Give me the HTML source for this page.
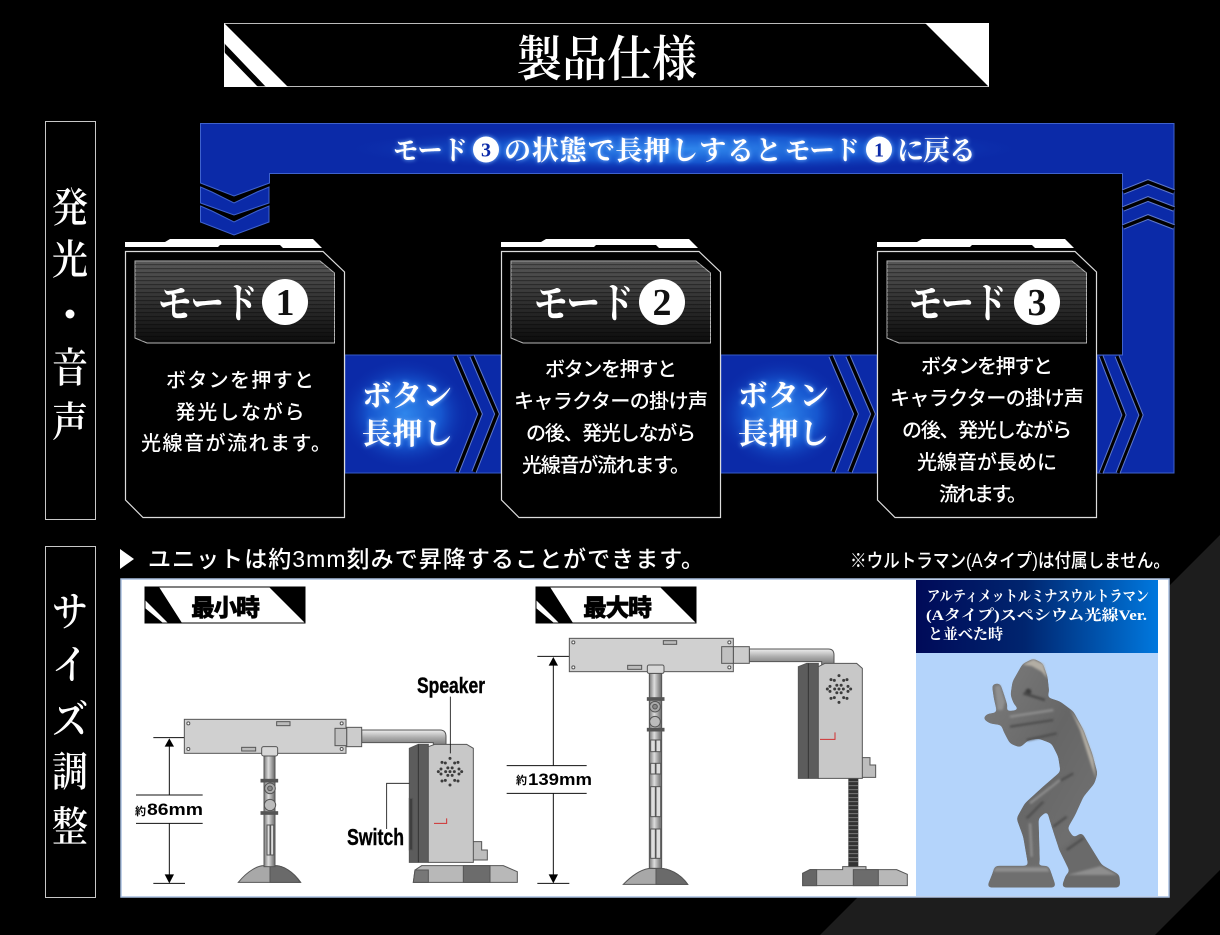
<!DOCTYPE html>
<html lang="ja"><head><meta charset="utf-8"><title>製品仕様</title>
<style>
html,body{margin:0;padding:0;background:#000;width:1220px;height:935px;overflow:hidden}
svg{display:block}
.sf{font-family:"Liberation Serif","Noto Serif CJK SC",serif}
.ss{font-family:"Liberation Sans","Noto Sans CJK JP",sans-serif}
</style></head><body>
<svg xmlns="http://www.w3.org/2000/svg" width="1220" height="935" viewBox="0 0 1220 935">
<defs>
<linearGradient id="hd" x1="0" y1="0" x2="0" y2="1"><stop offset="0" stop-color="#585858"/><stop offset=".55" stop-color="#2c2c2c"/><stop offset="1" stop-color="#0c0c0c"/></linearGradient>
<pattern id="scan" width="4" height="4" patternUnits="userSpaceOnUse"><rect width="4" height="1.2" fill="#000" opacity=".35"/></pattern>
<radialGradient id="glow"><stop offset="0" stop-color="#2f86ec"/><stop offset=".55" stop-color="#1656cf"/><stop offset="1" stop-color="#0b2aa8" stop-opacity="0"/></radialGradient>
<linearGradient id="phd" x1="0" y1="0" x2="1" y2="0"><stop offset="0" stop-color="#000a58"/><stop offset=".45" stop-color="#00256f"/><stop offset="1" stop-color="#0078de"/></linearGradient>
<linearGradient id="pole" x1="0" y1="0" x2="1" y2="0"><stop offset="0" stop-color="#777"/><stop offset=".4" stop-color="#ddd"/><stop offset="1" stop-color="#666"/></linearGradient>
<linearGradient id="arm" x1="0" y1="0" x2="0" y2="1"><stop offset="0" stop-color="#eee"/><stop offset=".5" stop-color="#aaa"/><stop offset="1" stop-color="#777"/></linearGradient>
<linearGradient id="fig" x1="0" y1="0" x2="1" y2="1"><stop offset="0" stop-color="#7e7e7e"/><stop offset=".5" stop-color="#666"/><stop offset="1" stop-color="#747474"/></linearGradient>
<filter id="ts" x="-20%" y="-40%" width="140%" height="180%"><feGaussianBlur stdDeviation="2.2" in="SourceGraphic" result="b"/><feFlood flood-color="#7db8ff"/><feComposite in2="b" operator="in"/><feMerge><feMergeNode/><feMergeNode in="SourceGraphic"/></feMerge></filter>
<filter id="bl" x="-10%" y="-10%" width="120%" height="120%"><feGaussianBlur stdDeviation="3"/></filter>
<filter id="smooth" x="-10%" y="-10%" width="120%" height="120%" color-interpolation-filters="sRGB"><feGaussianBlur stdDeviation="6"/><feColorMatrix type="matrix" values="1 0 0 0 0  0 1 0 0 0  0 0 1 0 0  0 0 0 14 -6"/></filter>

<g id="speaker" fill="#3c3c3c">
<circle r="4.500"/><circle cx="13" r="4.500"/><circle cx="-13" r="4.500"/><circle cx="6.500" cy="11.300" r="4.500"/><circle cx="-6.500" cy="11.300" r="4.500"/><circle cx="6.500" cy="-11.300" r="4.500"/><circle cx="-6.500" cy="-11.300" r="4.500"/>
<circle cx="27" cy="7" r="4.500"/><circle cx="27" cy="-8" r="4.500"/><circle cx="-27" cy="7" r="4.500"/><circle cx="-27" cy="-8" r="4.500"/><circle cx="35" r="4.500"/><circle cx="-35" r="4.500"/><circle cx="14" cy="26" r="4.500"/><circle cx="-14" cy="26" r="4.500"/><circle cx="14" cy="-26" r="4.500"/><circle cx="-14" cy="-26" r="4.500"/><circle cy="40" r="4.500"/><circle cy="-40" r="4.500"/><circle cx="24" cy="28" r="4.500"/><circle cx="-24" cy="28" r="4.500"/><circle cx="24" cy="-28" r="4.500"/><circle cx="-24" cy="-28" r="4.500"/>
</g>

<g id="card">
<path d="M125 242H165L170 239H313L322 248H283L280 245H220L218 247H125Z" fill="#fff"/>
<path d="M125.500 251.500H323L344.500 272V517.500H143L125.500 500Z" fill="#000" stroke="#dcdcdc" stroke-width="1.200"/>
<path d="M135 261H320L334.500 273V343H147L135 338Z" fill="url(#hd)" stroke="#b5b5b5" stroke-width="1"/>
<path d="M135 261H320L334.500 273V343H147L135 338Z" fill="url(#scan)"/>
</g>

<g id="arrow">
<rect x="345" y="355" width="156" height="118" fill="#0b2aa8" stroke="#3459c6" stroke-width="1"/>
<ellipse cx="405" cy="414" rx="66" ry="56" fill="url(#glow)"/>
<path d="M455 356L480 414L457 472" fill="none" stroke="#5f78c9" stroke-width="5.400"/>
<path d="M455 356L480 414L457 472" fill="none" stroke="#000" stroke-width="3.400"/>
<path d="M472 356L497 414L474 472" fill="none" stroke="#5f78c9" stroke-width="5.400"/>
<path d="M472 356L497 414L474 472" fill="none" stroke="#000" stroke-width="3.400"/>
</g>

<g id="lblshape">
<rect x="0" y="0" width="160" height="36" fill="#fff" stroke="#000" stroke-width="1"/>
<path d="M0 0H14L37 36H23L0 13Z" fill="#000"/>
<path d="M0 21L18 36H0Z" fill="#000"/>
<path d="M124 0H160V36Z" fill="#000"/>
</g>
</defs>

<rect width="1220" height="935" fill="#000"/>
<path d="M1220 535L820 935H1155L1220 870Z" fill="#1d1d1d"/>

<!-- title -->
<rect x="224.500" y="23.500" width="764" height="63" fill="#000" stroke="#bbb" stroke-width="1"/>
<path d="M224 23L288 87H266L224 43Z" fill="#fff"/>
<path d="M224 52L258 87H224Z" fill="#fff"/>
<path d="M925 23H989V87Z" fill="#fff"/>
<text class="sf" x="517" y="76" font-size="49" font-weight="600" fill="#fff" textLength="180" lengthAdjust="spacingAndGlyphs">製品仕様</text>

<!-- side boxes -->
<rect x="45.500" y="121.500" width="50" height="398" fill="#000" stroke="#c8c8c8"/>
<rect x="45.500" y="546.500" width="50" height="351" fill="#000" stroke="#c8c8c8"/>
<g class="sf" font-size="41" font-weight="600" fill="#fff" text-anchor="middle">
<text x="70" y="222" textLength="36" lengthAdjust="spacingAndGlyphs">発</text><text x="70" y="274" textLength="36" lengthAdjust="spacingAndGlyphs">光</text><circle cx="70" cy="314" r="4.500" fill="#fff"/><text x="70" y="382" textLength="36" lengthAdjust="spacingAndGlyphs">音</text><text x="70" y="436" textLength="36" lengthAdjust="spacingAndGlyphs">声</text>
<text x="70" y="626" textLength="36" lengthAdjust="spacingAndGlyphs">サ</text><text x="70" y="679" textLength="36" lengthAdjust="spacingAndGlyphs">イ</text><text x="70" y="734" textLength="36" lengthAdjust="spacingAndGlyphs">ズ</text><text x="70" y="786" textLength="36" lengthAdjust="spacingAndGlyphs">調</text><text x="70" y="841" textLength="36" lengthAdjust="spacingAndGlyphs">整</text>
</g>

<!-- blue loop -->
<path d="M200.500 123.500H1174V473H1097V355H1122.500V173.500H269.500V183L234 196L200.500 183Z" fill="#0b2aa8" stroke="#3f62cc" stroke-width="1"/>
<path d="M200.500 187L212 192L234 203L257 192L269 187V203L234 215L200.500 203Z" fill="#0b2aa8" stroke="#3f62cc"/>
<path d="M200.500 206L212 211L234 222L257 211L269 206V222L234 235L200.500 222Z" fill="#0b2aa8" stroke="#3f62cc"/>
<ellipse cx="684" cy="149" rx="345" ry="24" fill="url(#glow)"/>
<g fill="none">
<path d="M1123 192L1148 182L1174 192" stroke="#5f78c9" stroke-width="5.500"/><path d="M1123 192L1148 182L1174 192" stroke="#000" stroke-width="3.500"/>
<path d="M1123 209L1148 199L1174 209" stroke="#5f78c9" stroke-width="5.500"/><path d="M1123 209L1148 199L1174 209" stroke="#000" stroke-width="3.500"/>
<path d="M1123 227L1148 217L1174 227" stroke="#5f78c9" stroke-width="5.500"/><path d="M1123 227L1148 217L1174 227" stroke="#000" stroke-width="3.500"/>
<path d="M1101 356L1124 415L1101 473" stroke="#5f78c9" stroke-width="5"/><path d="M1101 356L1124 415L1101 473" stroke="#000" stroke-width="3"/>
<path d="M1117 356L1141 415L1118 473" stroke="#5f78c9" stroke-width="5"/><path d="M1117 356L1141 415L1118 473" stroke="#000" stroke-width="3"/>
</g>
<g class="sf" font-size="27" font-weight="700" fill="#fff" filter="url(#ts)">
<text x="393" y="160" textLength="75" lengthAdjust="spacingAndGlyphs">モード</text>
<circle cx="486" cy="149.500" r="13" fill="#fff"/>
<text x="504" y="160" textLength="278">の状態で長押しすると</text>
<text x="785" y="160" textLength="75" lengthAdjust="spacingAndGlyphs">モード</text>
<circle cx="879" cy="149.500" r="13" fill="#fff"/>
<text x="897" y="160" textLength="79">に戻る</text>
</g>
<g class="sf" font-size="20" font-weight="700" fill="#0b2aa8" text-anchor="middle"><text x="486" y="156.500">3</text><text x="879" y="156.500">1</text></g>

<!-- arrows -->
<use href="#arrow"/>
<use href="#arrow" x="376"/>

<!-- cards -->
<use href="#card"/>
<use href="#card" x="376"/>
<use href="#card" x="752"/>

<g class="sf" font-size="42" font-weight="700" fill="#fff">
<text x="158" y="318" textLength="100" lengthAdjust="spacingAndGlyphs">モード</text>
<text x="534" y="318" textLength="100" lengthAdjust="spacingAndGlyphs">モード</text>
<text x="909" y="318" textLength="98" lengthAdjust="spacingAndGlyphs">モード</text>
</g>
<circle cx="285" cy="302" r="23" fill="#fff"/><circle cx="662" cy="302" r="23" fill="#fff"/><circle cx="1037" cy="302" r="23" fill="#fff"/>
<g class="sf" font-size="38" font-weight="700" fill="#111" text-anchor="middle">
<text x="285" y="315">1</text><text x="662" y="315">2</text><text x="1037" y="315">3</text>
</g>

<g class="ss" font-size="20" font-weight="500" fill="#fff" text-anchor="middle">
<text x="240" y="387" textLength="148">ボタンを押すと</text>
<text x="240" y="419" textLength="129">発光しながら</text>
<text x="236" y="450" textLength="190">光線音が流れます。</text>

<text x="611" y="376" textLength="132">ボタンを押すと</text>
<text x="611" y="408" textLength="194">キャラクターの掛け声</text>
<text x="611" y="440" textLength="170">の後、発光しながら</text>
<text x="606" y="472" textLength="168">光線音が流れます。</text>

<text x="987" y="373" textLength="132">ボタンを押すと</text>
<text x="987" y="405" textLength="194">キャラクターの掛け声</text>
<text x="987" y="437" textLength="170">の後、発光しながら</text>
<text x="987" y="469" textLength="140">光線音が長めに</text>
<text x="983" y="501" textLength="88">流れます。</text>
</g>

<g class="sf" font-size="30" font-weight="700" fill="#fff" filter="url(#ts)">
<text x="362" y="406" textLength="90">ボタン</text>
<text x="362" y="444" textLength="91">長押し</text>
<text x="738" y="406" textLength="91">ボタン</text>
<text x="738" y="444" textLength="91">長押し</text>
</g>

<!-- size header -->
<path d="M120 549L134 559L120 569Z" fill="#fff"/>
<text class="ss" x="148" y="567" font-size="23" font-weight="500" fill="#fff" textLength="556">ユニットは約3mm刻みで昇降することができます。</text>
<text class="ss" x="850" y="567" font-size="19" font-weight="500" fill="#fff" textLength="320" lengthAdjust="spacingAndGlyphs">※ウルトラマン(Aタイプ)は付属しません。</text>

<!-- panel -->
<rect x="121" y="579" width="1048" height="318" fill="#fff" stroke="#a9bfe0" stroke-width="1.500"/>

<!-- photo panel -->
<rect x="916" y="580" width="242" height="316" fill="#b4d4fb"/>
<rect x="916" y="580" width="242" height="73" fill="url(#phd)"/>
<g class="sf" font-size="15" font-weight="700" fill="#fff">
<text x="927" y="601" textLength="222" lengthAdjust="spacingAndGlyphs">アルティメットルミナスウルトラマン</text>
<text x="926" y="620" textLength="221" lengthAdjust="spacingAndGlyphs">(Aタイプ)スペシウム光線Ver.</text>
<text x="928" y="639" textLength="75" lengthAdjust="spacingAndGlyphs">と並べた時</text>
</g>

<!-- figure -->
<g transform="translate(910 570) scale(.33333)">
<g filter="url(#smooth)">
<path d="M255 888H415L422 905L438 952H231L248 910Z" fill="#6f6f6f"/>
<path d="M446 835L515 788L575 885L628 915L630 952H455L468 915L480 905Z" fill="#6a6a6a"/>
<path d="M338 282L370 266L398 280L412 320L417 365L411 382L450 395L490 425L520 480L546 550L562 610L553 640L520 680L495 735L472 775L492 805L448 838L432 790L418 745L412 722L385 745L389 882L355 887L340 800L320 745L345 700L400 650L452 605L445 560L425 520L385 505L355 510L330 532L300 520L280 482L275 465L240 460L218 445L232 432L262 428L252 385L246 343L270 340L282 375L293 410L285 425L330 420L312 402L302 375L308 335Z" fill="url(#fig)"/>
</g>
<g filter="url(#bl)">
<path d="M338 284L370 268L400 282L412 325L395 305L365 288Z" fill="#b3aea4"/>
<path d="M480 415L520 480L550 565L558 625L545 590L510 480Z" fill="#b3aea4"/>
<path d="M255 350L270 345L285 395L278 420L262 420Z" fill="#909090"/>
<path d="M258 892H412L418 905H250Z" fill="#909090"/>
<path d="M472 915L572 888L622 915Z" fill="#8e8e8e"/>
<circle cx="355" cy="365" r="9" fill="#3c3c3c"/>
<path d="M340 370L405 390" stroke="#4a4a4a" stroke-width="8" fill="none"/>
<path d="M300 470L430 450M350 510L440 490M420 650L490 610M350 745L400 695M430 770L470 740M470 840L520 805" stroke="#4e4e4e" stroke-width="7" fill="none"/>
<path d="M300 440L430 420M360 700L450 630M360 760L365 860" stroke="#8f8f8f" stroke-width="7" fill="none"/>
</g>
</g>

<!-- labels -->
<use href="#lblshape" x="145" y="587"/>
<use href="#lblshape" x="536" y="587"/>
<g class="ss" font-size="24" font-weight="900" fill="#000" stroke="#000" stroke-width=".4">
<text x="191" y="616" textLength="69">最小時</text>
<text x="583" y="616" textLength="69">最大時</text>
</g>

<!-- min device -->
<g transform="translate(120 575) scale(.33333)">
<g stroke="#111" stroke-width="3" fill="#000">
<path d="M100 488H193M100 925H195M48 660H248M48 745H248M148 500V660M148 745V915" fill="none"/>
<path d="M148 490L162 515H134Z" stroke="none"/><path d="M148 925L134 898H162Z" stroke="none"/>
</g>
<g stroke="#555" stroke-width="3">
<path d="M355 922C385 885 415 872 432 872H465C490 872 520 890 542 922Z" fill="#a8a8a8"/>
<path d="M450 872V922H540C520 890 490 872 465 872Z" fill="#6a6a6a"/>
<rect x="432" y="540" width="33" height="335" fill="url(#pole)"/>
<rect x="441" y="750" width="9" height="90" fill="#ddd"/><rect x="452" y="750" width="9" height="90" fill="#ddd"/>
<rect x="423" y="613" width="50" height="8" fill="#555"/><rect x="423" y="710" width="50" height="8" fill="#555"/>
<circle cx="450" cy="640" r="16" fill="#aaa"/><circle cx="450" cy="640" r="7" fill="#888"/><circle cx="450" cy="690" r="17" fill="#bbb"/>
<path d="M725 465H960Q978 465 978 485V512H940V503H725Z" fill="url(#arm)"/>
<rect x="193" y="433" width="485" height="102" fill="#d0d0d0"/>
<rect x="680" y="457" width="45" height="58" fill="#ccc"/>
<rect x="645" y="460" width="35" height="52" fill="#c0c0c0"/>
<rect x="425" y="515" width="48" height="28" rx="6" fill="#d8d8d8"/>
<rect x="470" y="440" width="40" height="12" fill="#bbb"/><rect x="365" y="517" width="42" height="11" fill="#bbb"/>
<g fill="#fff"><circle cx="205" cy="445" r="4.500"/><circle cx="665" cy="445" r="4.500"/><circle cx="205" cy="522" r="4.500"/><circle cx="665" cy="522" r="4.500"/></g>
<path d="M880 922L885 885L905 872H1150L1192 890V922Z" fill="#b8b8b8"/>
<path d="M880 922L885 885H925V922Z" fill="#777"/><path d="M1030 872H1110V922H1030Z" fill="#6c6c6c"/>
<path d="M1050 800H1085V825H1102V855H1050Z" fill="#bdbdbd"/>
<path d="M868 520L895 508H925V862H868Z" fill="#5c5c5c"/>
<path d="M868 670H878V825H868Z" fill="#3f3f3f"/>
<path d="M925 515L945 508H1040L1060 520V862H925Z" fill="#c8c8c8"/>
<path d="M895 508V862" stroke="#333" fill="none"/>
</g>
<use href="#speaker" x="990" y="590"/>
<path d="M942 745H980V730" fill="none" stroke="#d03030" stroke-width="3"/>
<path d="M991 365V535M800 762V625H868" fill="none" stroke="#111" stroke-width="2.500"/>
</g>
<text class="ss" x="417" y="693" font-size="22" font-weight="700" fill="#000" stroke="#000" stroke-width=".4" textLength="68" lengthAdjust="spacingAndGlyphs">Speaker</text>
<text class="ss" x="347" y="845" font-size="23" font-weight="700" fill="#000" stroke="#000" stroke-width=".4" textLength="57" lengthAdjust="spacingAndGlyphs">Switch</text>
<text class="ss" x="135" y="815" font-size="11" font-weight="700" fill="#000">約</text>
<text class="ss" x="147" y="815" font-size="17" font-weight="700" fill="#000" textLength="56" lengthAdjust="spacingAndGlyphs">86mm</text>

<!-- max device -->
<g transform="translate(520 575) scale(.33333)">
<g stroke="#111" stroke-width="3" fill="#000">
<path d="M52 244H148M52 925H148M-40 572H200M-40 655H200M100 256V572M100 655V915" fill="none"/>
<path d="M100 246L114 272H86Z" stroke="none"/><path d="M100 925L86 898H114Z" stroke="none"/>
</g>
<g stroke="#555" stroke-width="3">
<path d="M310 928C345 892 375 880 392 880H420C445 880 480 895 503 928Z" fill="#a8a8a8"/>
<path d="M408 880V928H503C480 895 445 880 420 880Z" fill="#6a6a6a"/>
<rect x="388" y="295" width="37" height="585" fill="url(#pole)"/>
<g fill="#ddd"><rect x="392" y="495" width="14" height="35"/><rect x="408" y="495" width="14" height="35"/><rect x="392" y="565" width="14" height="32"/><rect x="408" y="565" width="14" height="32"/><rect x="392" y="635" width="14" height="90"/><rect x="408" y="635" width="14" height="90"/><rect x="392" y="762" width="14" height="88"/><rect x="408" y="762" width="14" height="88"/></g>
<rect x="382" y="368" width="50" height="8" fill="#555"/><rect x="382" y="460" width="50" height="8" fill="#555"/>
<circle cx="405" cy="395" r="16" fill="#aaa"/><circle cx="405" cy="395" r="7" fill="#888"/><circle cx="405" cy="440" r="16" fill="#bbb"/>
<path d="M688 222H925Q942 222 942 240V270H905V260H688Z" fill="url(#arm)"/>
<rect x="148" y="190" width="492" height="100" fill="#d0d0d0"/>
<rect x="640" y="215" width="48" height="50" fill="#ccc"/>
<rect x="605" y="215" width="35" height="50" fill="#c0c0c0"/>
<rect x="382" y="270" width="50" height="25" rx="5" fill="#d8d8d8"/>
<rect x="430" y="197" width="40" height="11" fill="#bbb"/><rect x="323" y="271" width="42" height="12" fill="#bbb"/>
<g fill="#fff"><circle cx="160" cy="202" r="4.500"/><circle cx="628" cy="202" r="4.500"/><circle cx="160" cy="277" r="4.500"/><circle cx="628" cy="277" r="4.500"/></g>
</g>
<rect x="985" y="610" width="30" height="265" fill="#333"/>
<path d="M985 620H1015M985 632H1015M985 644H1015M985 656H1015M985 668H1015M985 680H1015M985 692H1015M985 704H1015M985 716H1015M985 728H1015M985 740H1015M985 752H1015M985 764H1015M985 776H1015M985 788H1015M985 800H1015M985 812H1015M985 824H1015M985 836H1015M985 848H1015M985 860H1015" stroke="#777" stroke-width="3"/>
<g stroke="#555" stroke-width="3">
<path d="M848 932V895L870 884H968V875H1038V884H1130L1162 898V932Z" fill="#b8b8b8"/>
<path d="M848 932V895L870 884H890V932Z" fill="#666"/><path d="M1000 884H1075V932H1000Z" fill="#6c6c6c"/>
<path d="M1017 548H1050V570H1067V607H1017Z" fill="#bdbdbd"/>
<path d="M835 275L860 265H895V610H835Z" fill="#5c5c5c"/>
<path d="M895 275L915 265H1010L1027 280V610H895Z" fill="#c8c8c8"/>
<path d="M865 265V610" stroke="#333" fill="none"/>
</g>
<use href="#speaker" x="957" y="342"/>
<path d="M900 493H945V472" fill="none" stroke="#d03030" stroke-width="3"/>
</g>
<text class="ss" x="516" y="784" font-size="11" font-weight="700" fill="#000">約</text>
<text class="ss" x="528" y="785" font-size="17" font-weight="700" fill="#000" textLength="64" lengthAdjust="spacingAndGlyphs">139mm</text>
</svg>
</body></html>
